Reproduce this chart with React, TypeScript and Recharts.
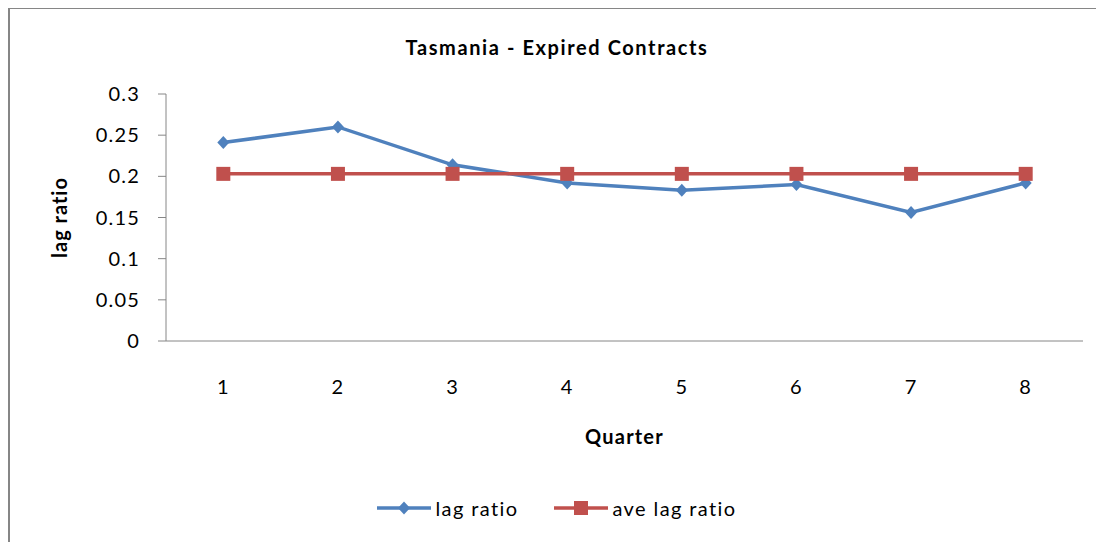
import { LineChart, Line, XAxis, YAxis, Legend } from 'recharts';

// quarters and the two series
const quarters = [1, 2, 3, 4, 5, 6, 7, 8];
const lagRatio = [0.241, 0.26, 0.214, 0.192, 0.183, 0.19, 0.156, 0.192];
const aveLagRatio = [0.203, 0.203, 0.203, 0.203, 0.203, 0.203, 0.203, 0.203];
const yTicks = [0, 0.05, 0.1, 0.15, 0.2, 0.25, 0.3];
// category boundaries, where Excel puts the x tick marks
const xBoundaries = [0.5, 1.5, 2.5, 3.5, 4.5, 5.5, 6.5, 7.5, 8.5];
const seriesOrder = ['lag', 'ave'];

const data = quarters.map((q, i) => ({
  quarter: q,
  lag: lagRatio[i],
  ave: aveLagRatio[i],
}));

const FONT = 'Lato, "Open Sans", sans-serif';
const AXIS = '#868686';
const BLUE = '#4F81BD';
const RED = '#C0504D';
const tickStyle = { fill: '#000', fontSize: 20, fontFamily: FONT, letterSpacing: 1.2 };

function Diamond({ cx, cy, color }: any) {
  const r = 6.5;
  return <path d={`M${cx},${cy - r} L${cx + r - 0.5},${cy} L${cx},${cy + r} L${cx - r + 0.5},${cy} Z`} fill={color} />;
}

function Square({ cx, cy, color }: any) {
  const s = 14;
  return <rect x={cx - s / 2} y={cy - s / 2} width={s} height={s} fill={color} />;
}

function LegendContent({ payload }: any) {
  const items = [...(payload || [])].sort(
    (a: any, b: any) => seriesOrder.indexOf(a.dataKey) - seriesOrder.indexOf(b.dataKey)
  );
  return (
    <div style={{ display: 'flex', justifyContent: 'center', alignItems: 'center', fontFamily: FONT, fontSize: 20, letterSpacing: 1.4, color: '#000', height: 26 }}>
      {items.map((entry: any) => (
        <div key={entry.dataKey} style={{ display: 'flex', alignItems: 'center', margin: '0 18px' }}>
          <svg width={54} height={16}>
            <line x1={0} x2={54} y1={8} y2={8} stroke={entry.color} strokeWidth={3.5} />
            {entry.dataKey === 'lag' ? <Diamond cx={27} cy={8} color={entry.color} /> : <Square cx={27} cy={8} color={entry.color} />}
          </svg>
          <span style={{ marginLeft: 4 }}>{entry.value}</span>
        </div>
      ))}
    </div>
  );
}

export default function App() {
  return (
    <div
      style={{
        position: 'relative',
        width: 1096,
        height: 534,
        borderTop: `1px solid ${AXIS}`,
        borderLeft: `2px solid ${AXIS}`,
        boxSizing: 'border-box',
        background: '#fff',
      }}
    >
      <div
        style={{
          position: 'absolute',
          top: 28,
          left: 0,
          width: 1094,
          textAlign: 'center',
          fontFamily: FONT,
          fontWeight: 'bold',
          fontSize: 20,
          letterSpacing: 1.6,
          lineHeight: 1,
          color: '#000',
        }}
      >
        Tasmania - Expired Contracts
      </div>
      <LineChart width={1094} height={533} data={data} margin={{ top: 85, right: 21, left: 0, bottom: 80 }}>
        <XAxis
          xAxisId="m"
          type="number"
          dataKey="quarter"
          domain={[0.5, 8.5]}
          ticks={xBoundaries}
          tick={false}
          tickSize={8}
          height={1}
          stroke={AXIS}
          interval={0}
        />
        <XAxis
          xAxisId="q"
          type="number"
          dataKey="quarter"
          domain={[0.5, 8.5]}
          ticks={quarters}
          interval={0}
          axisLine={false}
          tickLine={false}
          tickSize={6}
          tickMargin={32}
          height={120}
          tick={tickStyle}
          label={(props: any) => {
            const vb = props.viewBox || {};
            return (
              <text x={vb.x + vb.width / 2} y={vb.y + 102} textAnchor="middle" fontFamily={FONT} fontSize={20} fontWeight="bold" letterSpacing={1.2} fill="#000">
                Quarter
              </text>
            );
          }}
        />
        <YAxis
          type="number"
          domain={[0, 0.3]}
          ticks={yTicks}
          interval={0}
          width={156}
          tickSize={8}
          tickMargin={18}
          stroke={AXIS}
          tick={tickStyle}
          label={(props: any) => {
            const vb = props.viewBox || {};
            const cx = vb.x + 49;
            const cy = vb.y + vb.height / 2;
            return (
              <text x={cx} y={cy} transform={`rotate(-90, ${cx}, ${cy})`} textAnchor="middle" dominantBaseline="central" fontFamily={FONT} fontSize={20} fontWeight="bold" letterSpacing={1} fill="#000">
                lag ratio
              </text>
            );
          }}
        />
        <Legend verticalAlign="middle" wrapperStyle={{ top: 486, left: 0, width: 1094 }} content={<LegendContent />} />
        <Line
          xAxisId="q"
          dataKey="lag"
          name="lag ratio"
          stroke={BLUE}
          strokeWidth={3.5}
          isAnimationActive={false}
          dot={(p: any) => <Diamond key={`lag-${p.index}`} cx={p.cx} cy={p.cy} color={BLUE} />}
          activeDot={false}
        />
        <Line
          xAxisId="q"
          dataKey="ave"
          name="ave lag ratio"
          stroke={RED}
          strokeWidth={3.5}
          isAnimationActive={false}
          dot={(p: any) => <Square key={`ave-${p.index}`} cx={p.cx} cy={p.cy} color={RED} />}
          activeDot={false}
        />
      </LineChart>
    </div>
  );
}
